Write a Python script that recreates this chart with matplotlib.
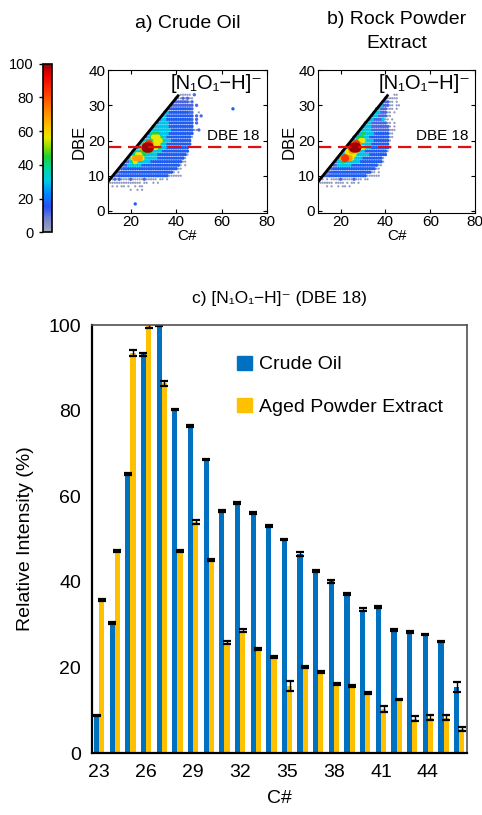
import numpy as np
import matplotlib
matplotlib.use("Agg")
import matplotlib.pyplot as plt
from matplotlib.colors import LinearSegmentedColormap, Normalize
from matplotlib.patches import Patch
import matplotlib.cm as cm

plt.rcParams['font.family'] = ['Liberation Sans', 'DejaVu Sans']

# ---- bar chart data (DBE 18 class) ----
carbon = list(range(23, 47))
crude = [8.8, 30.4, 65.3, 93.2, 100, 80.3, 76.4, 68.6, 56.6, 58.5, 56.1, 53.1,
         49.9, 46.5, 42.5, 40.1, 37.2, 33.5, 34.1, 28.7, 28.3, 27.7, 26.1, 15.5]
aged = [35.8, 47.2, 93.6, 99.8, 86.4, 47.2, 54.0, 45.1, 25.8, 28.6, 24.3, 22.5,
        15.6, 20.1, 18.9, 16.2, 15.7, 14.0, 10.3, 12.5, 8.0, 8.3, 8.3, 5.7]
crude_err = [0.2, 0.2, 0.2, 0.3, 0.3, 0.2, 0.2, 0.2, 0.2, 0.2, 0.3, 0.2,
             0.2, 0.4, 0.2, 0.3, 0.2, 0.3, 0.2, 0.2, 0.2, 0.2, 0.2, 1.2]
aged_err = [0.3, 0.2, 0.7, 0.4, 0.5, 0.2, 0.4, 0.2, 0.4, 0.4, 0.2, 0.2,
            1.2, 0.2, 0.3, 0.2, 0.2, 0.2, 0.8, 0.2, 0.6, 0.6, 0.6, 0.5]

# ---- DBE vs C# maps: one string per DBE row, one char per carbon number ----
levels = {'.': 3, 'b': 12, 'B': 17, 'c': 30, 'g': 43, 'y': 56, 'o': 68, 'r': 84, 'R': 100}

a_dbe = [33, 32, 31, 30, 29, 28, 27, 26, 25, 24, 23, 22, 21, 20, 19, 18, 17, 16,
         15, 14, 13, 12, 11, 10, 9, 8, 7, 6]
a_cstart = [42, 40, 39, 38, 37, 35, 34, 33, 32, 30, 29, 28, 27, 25, 24, 23, 21, 20,
            19, 18, 16, 15, 14, 13, 11, 10, 12, 20]
a_rows = ["..... b",
          "b..b.b..",
          "bbbbbbb.b",
          "bbbbbbbbbb b",
          "bBBBBBBBBBb",
          "bcBBBBBBBBBbb  .",
          "bcBBBBBBBBBBBB b b",
          "bccBBBBBBBBBBBb b",
          "bccccBBBBBBBBBBB b",
          "bccccccBBBBBBBBBBB",
          "bccccccccBBBBBBBBBB..b",
          "bcgggccccBBBBBBBBBBB",
          "bcgyyygccBBBBBBBBBBB.",
          "bcccggyyygcccBBBBBBBBB",
          "bcgoroyyycccBBBBBBBBBBB",
          "bcooRRoyyggccBBBBBBBBBB",
          "bcccgggggccccBBBBBBBBBBBB",
          "bcgyyggcccccBBBBBBBBBBBBB.",
          "bcyoooyccccccBBBBBBBBBBBB.",
          "bbcgyccccccBBBBBBBBBBBBBB..",
          "bbBccccccBBBBBBBBBBBBBBBBB. .",
          "bbBBBBBBBBBBBBBBBBBBBBBBBB..",
          "bbBBBBBBBBBBBBBBBBBBBBBBB. .",
          "bbBBBBBBBBBBBBBBBBBBBBBB......",
          "..b.b....b.....b..... .. .",
          " .............. ..  . .",
          ". . .. .  . ..",
          ".  . ."]
a_out_c = [22, 65]
a_out_dbe = [2, 29]
a_out_lvl = ['B', 'B']

b_dbe = [33, 32, 31, 30, 29, 28, 27, 26, 25, 24, 23, 22, 21, 20, 19, 18, 17, 16,
         15, 14, 13, 12, 11, 10, 9, 8, 7]
b_cstart = [41, 40, 39, 38, 36, 35, 34, 33, 31, 30, 29, 28, 26, 25, 24, 23, 21, 20,
            19, 18, 17, 15, 14, 13, 12, 10, 14]
b_rows = [".  ..",
          "b.....",
          "bbb.. .",
          "cbbb.. ..",
          "bcbbb... .",
          "bccbbb.. .",
          "bccbbbb..",
          "bcbbbbc.. .",
          "bccbbbbbbb.. .",
          "bcccbbbbbbbb. .",
          "bccccbbbbbbbb...",
          "bcgccccbBBBBBB..",
          "bcggcccBBBBBBBBB..",
          "bccgyyccccBBBBBBB.",
          "bcorocccccBBBBBBBB",
          "bcrRRoyycccBBBBBBBB.",
          "bcyyoyycccBBBBBBBBBB.",
          "bccyyyyccccccBBBBBBBB",
          "bcorooyccccBBBBBBBBB.",
          "bccgcccccccBBBBBBBBBB.",
          "bbccccccBBBBBBBBBBBB..",
          "bbBBBBBBBBBBBBBBBBBBB..",
          "bbBBBBBBBBBBBBBBBBBB.. .",
          "bbBBBBBBBBBBBBBBBBB......",
          ". . ....b.....b... ..",
          " ...... .... . .. .",
          ". .  . .. ."]

cmap = LinearSegmentedColormap.from_list('dbe', [
    (0.00, '#a4a8b8'), (0.08, '#7080d0'), (0.15, '#2a50f0'), (0.23, '#0088ff'),
    (0.30, '#00c8e8'), (0.38, '#00d8a0'), (0.45, '#20d030'), (0.51, '#90e000'),
    (0.56, '#e8e800'), (0.63, '#ffc000'), (0.72, '#ff8800'), (0.82, '#ff4000'),
    (0.93, '#ee0000'), (1.00, '#a00000')])
norm = Normalize(0, 100)


def draw_map(ax, dbe, cstart, rows, out_c=(), out_dbe=(), out_lvl=()):
    xs, ys, vs = [], [], []
    for d, c0, row in zip(dbe, cstart, rows):
        for i, ch in enumerate(row):
            if ch != ' ':
                xs.append(c0 + i)
                ys.append(d)
                vs.append(levels[ch])
    for c, d, ch in zip(out_c, out_dbe, out_lvl):
        xs.append(c)
        ys.append(d)
        vs.append(levels[ch])
    xs, ys, vs = np.array(xs), np.array(ys), np.array(vs)
    order = np.argsort(vs)
    xs, ys, vs = xs[order], ys[order], vs[order]
    sizes = np.where(vs < 5, 2.6, 5.5 + 48 * (vs / 100.0) ** 3)
    ax.scatter(xs, ys, c=vs, cmap=cmap, norm=norm, s=sizes, linewidths=0)
    # max DBE line
    ax.plot([10, 41.2], [8.3, 33], color='black', lw=2, solid_capstyle='butt')
    ax.axhline(18.3, color='#e01010', lw=1.6, dashes=(6, 3))
    ax.text(53.5, 19.4, 'DBE 18', fontsize=11, va='bottom', ha='left')
    ax.text(78, 36.3, '[N\u2081O\u2081\u2212H]\u207b', fontsize=14.5, ha='right', va='center')
    ax.set_xlim(10, 80)
    ax.set_ylim(-0.5, 40)
    ax.set_xticks([20, 40, 60, 80])
    ax.set_yticks([0, 10, 20, 30, 40])
    ax.tick_params(direction='in', top=True, right=True, labelsize=11, length=3, pad=2)
    ax.set_xlabel('C#', fontsize=11, labelpad=0)
    ax.set_ylabel('DBE', fontsize=12, labelpad=1)


fig = plt.figure(figsize=(4.82, 8.15), dpi=100)

ax_a = fig.add_axes([0.224, 0.739, 0.330, 0.175])
draw_map(ax_a, a_dbe, a_cstart, a_rows, a_out_c, a_out_dbe, a_out_lvl)
fig.text(0.389, 1 - 24 / 815, 'a) Crude Oil', fontsize=14, ha='center', va='center')

ax_b = fig.add_axes([0.660, 0.739, 0.326, 0.175])
draw_map(ax_b, b_dbe, b_cstart, b_rows)
fig.text(0.823, 1 - 20 / 815, 'b) Rock Powder', fontsize=14, ha='center', va='center')
fig.text(0.823, 1 - 43 / 815, 'Extract', fontsize=14, ha='center', va='center')

cax = fig.add_axes([0.089, 0.715, 0.0187, 0.207])
sm = cm.ScalarMappable(norm=norm, cmap=cmap)
cb = fig.colorbar(sm, cax=cax, ticks=[0, 20, 40, 60, 80, 100])
cax.yaxis.set_ticks_position('left')
cax.tick_params(labelsize=10.5, length=3, width=1)
cb.outline.set_linewidth(1.2)

# ---- bar chart ----
ax = fig.add_axes([0.191, 0.076, 0.778, 0.525])
x = np.array(carbon)
w = 0.33
ax.bar(x - w / 2, crude, w, color='#0070c0', label='Crude Oil')
ax.bar(x + w / 2, aged, w, color='#ffc000', label='Aged Powder Extract')
ax.errorbar(x - w / 2, crude, yerr=crude_err, fmt='none', ecolor='black',
            elinewidth=1, capsize=3, capthick=1.6)
ax.errorbar(x + w / 2, aged, yerr=aged_err, fmt='none', ecolor='black',
            elinewidth=1, capsize=3, capthick=1.6)
ax.set_xlim(22.55, 46.5)
ax.set_ylim(0, 100)
ax.set_xticks([23, 26, 29, 32, 35, 38, 41, 44])
ax.set_yticks([0, 20, 40, 60, 80, 100])
ax.tick_params(length=0, labelsize=14, pad=8)
for side in ['top', 'right']:
    ax.spines[side].set_color('#505050')
    ax.spines[side].set_linewidth(1.2)
for side in ['left', 'bottom']:
    ax.spines[side].set_color('black')
    ax.spines[side].set_linewidth(1.6)
ax.set_ylabel('Relative Intensity (%)', fontsize=14, labelpad=10)
ax.set_xlabel('C#', fontsize=14, labelpad=6)
ax.set_title('c) [N\u2081O\u2081\u2212H]\u207b (DBE 18)', fontsize=12.5, pad=16)

handles = [Patch(color='#0070c0'), Patch(color='#ffc000')]
ax.legend(handles, ['Crude Oil', 'Aged Powder Extract'], loc='upper left',
          bbox_to_anchor=(0.34, 0.97), frameon=False, fontsize=14,
          handlelength=0.75, handleheight=0.75, handletextpad=0.4, labelspacing=1.25)

fig.savefig('out.png', dpi=100)
